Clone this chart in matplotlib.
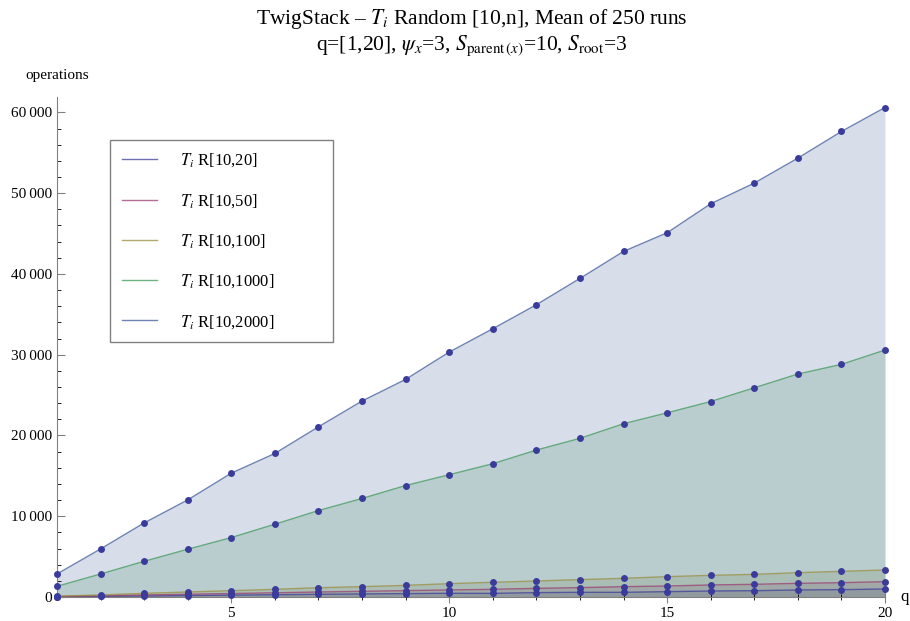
import matplotlib
matplotlib.use('Agg')
import matplotlib.pyplot as plt
from matplotlib.ticker import MultipleLocator, FuncFormatter

plt.rcParams['font.family'] = ['Liberation Serif', 'DejaVu Serif']
plt.rcParams['mathtext.fontset'] = 'stix'

q = list(range(1, 21))

r20 = [30, 80, 130, 180, 230, 280, 330, 380, 420, 460,
       450, 540, 580, 580, 660, 740, 780, 870, 910, 990]
r50 = [60, 150, 250, 340, 430, 520, 620, 700, 790, 870,
       950, 1070, 1160, 1280, 1360, 1490, 1570, 1690, 1770, 1900]
r100 = [100, 250, 450, 620, 780, 950, 1150, 1280, 1440, 1650,
        1820, 1980, 2150, 2310, 2520, 2680, 2800, 3010, 3180, 3340]
r1000 = [1320, 2850, 4420, 5910, 7360, 9010, 10700, 12200, 13800, 15140,
         16500, 18190, 19640, 21450, 22800, 24200, 25900, 27600, 28800, 30570]
r2000 = [2850, 5950, 9170, 12020, 15330, 17770, 21070, 24260, 26940, 30320,
         33210, 36180, 39440, 42780, 45090, 48680, 51240, 54330, 57630, 60600]

series = [r20, r50, r100, r1000, r2000]
labels = ['$T_i$ R[10,20]', '$T_i$ R[10,50]', '$T_i$ R[10,100]',
          '$T_i$ R[10,1000]', '$T_i$ R[10,2000]']
colors = [(0.24, 0.24, 0.6), (0.6, 0.24, 0.44), (0.6, 0.55, 0.24),
          (0.24, 0.6, 0.34), (0.24, 0.35, 0.6)]

fig = plt.figure(figsize=(9.1, 6.21), dpi=100)
ax = fig.add_axes([57/910, 24/621, 828/910, 500/621])

for ys, c in zip(series, colors):
    ax.fill_between(q, 0, ys, color=c, alpha=0.2, linewidth=0)
lines = []
for ys, c, lab in zip(series, colors, labels):
    ln, = ax.plot(q, ys, color=c, alpha=0.75, lw=1, label=lab)
    lines.append(ln)
for ys in series:
    ax.plot(q, ys, 'o', color='#3b3b9c', ms=5, mew=0, clip_on=False, zorder=5)

ax.set_xlim(1, 20)
ax.set_ylim(0, 61900)
for s in ['top', 'right']:
    ax.spines[s].set_visible(False)
for s in ['left', 'bottom']:
    ax.spines[s].set_color('#808080')

ax.xaxis.set_major_locator(MultipleLocator(5))
ax.xaxis.set_minor_locator(MultipleLocator(1))
ax.yaxis.set_major_locator(MultipleLocator(10000))
ax.yaxis.set_minor_locator(MultipleLocator(2000))
ax.yaxis.set_major_formatter(FuncFormatter(lambda v, p: '{:,}'.format(int(v)).replace(',', '\u2009')))
ax.tick_params(axis='both', colors='#808080', labelcolor='black', labelsize=11)
ax.tick_params(axis='y', which='major', direction='in', length=6)
ax.tick_params(axis='y', which='minor', direction='in', length=3)
ax.tick_params(axis='x', which='major', direction='inout', length=8)
ax.tick_params(axis='x', which='minor', direction='inout', length=4)

ax.text(1.018, 0, 'q', transform=ax.transAxes, fontsize=12, va='center', ha='left')
ax.text(0.0, 1.044, 'operations', transform=ax.transAxes, fontsize=11, ha='center', va='center')

fig.text(0.518, 0.97, 'TwigStack \u2013 $T_i$ Random [10,n], Mean of 250 runs',
         ha='center', va='center', fontsize=15.5)
fig.text(0.518, 0.926, 'q=[1,20], $\\psi_x$=3, $S_{\\mathrm{parent}\\,(x)}$=10, $S_{\\mathrm{root}}$=3',
         ha='center', va='center', fontsize=15.5)

leg = ax.legend(handles=lines, loc='upper left', bbox_to_anchor=(0.064, 0.5, 0.269, 0.414),
                mode='expand', borderaxespad=0,
                fontsize=12, labelspacing=1.35, handlelength=2.1, handletextpad=1.4,
                borderpad=0.7, fancybox=False, framealpha=1, edgecolor='#808080')
leg.get_frame().set_linewidth(1)

fig.savefig('out.png', dpi=100)
